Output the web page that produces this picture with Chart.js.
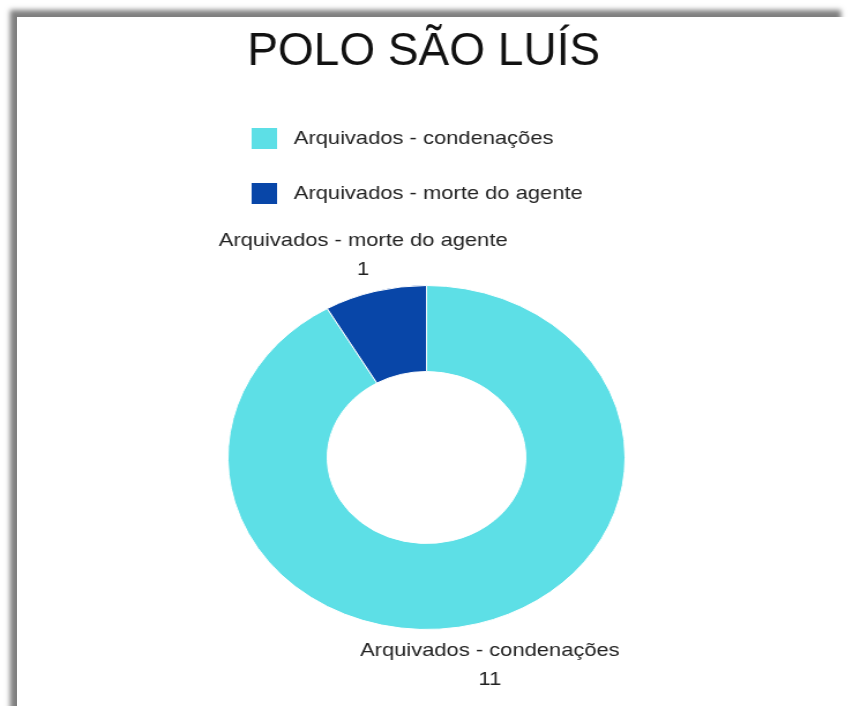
<!DOCTYPE html>
<html>
<head>
<meta charset="utf-8">
<script src="https://cdn.jsdelivr.net/npm/chart.js@4.4.0/dist/chart.umd.min.js"></script>
<style>
  html, body { margin: 0; padding: 0; background: #fff; width: 853px; height: 706px; overflow: hidden; }
  #frame {
    position: absolute; left: 17px; top: 17px; width: 831px; height: 760px;
    background: #fff; box-shadow: -7px -7px 5px rgba(0, 0, 0, 0.5);
  }
  /* the reference is stretched sideways, so the whole canvas is too */
  #wrap {
    position: absolute; left: 0; top: 0; width: 739px; height: 706px;
    transform: scaleX(1.1543); transform-origin: 0 0;
  }
</style>
</head>
<body>
<div id="frame"></div>
<div id="wrap"><canvas id="poloChart"></canvas></div>
<script>
const titleText = 'POLO SÃO LUÍS';
const categories = ['Arquivados - condenações', 'Arquivados - morte do agente'];
const counts = [11, 1];
const sliceColors = ['#5ddfe6', '#0846a8'];

const FONT = "'Liberation Sans', Arial, sans-serif";
const STRETCH = 1.1543;

// title is not stretched in the reference, so squeeze it back
const plainTitle = {
    id: 'plainTitle',
    afterDraw(chart) {
        const ctx = chart.ctx;
        ctx.save();
        ctx.translate(367, 65);
        ctx.scale(1 / STRETCH, 1);
        ctx.font = '46px ' + FONT;
        ctx.fillStyle = '#111';
        ctx.textAlign = 'center';
        ctx.textBaseline = 'alphabetic';
        ctx.fillText(titleText, 0, 0);
        ctx.restore();
    }
};

// vertical legend drawn by hand (chart.js would put the items in one row)
const stackedLegend = {
    id: 'stackedLegend',
    afterDraw(chart) {
        const ctx = chart.ctx;
        ctx.save();
        ctx.font = '19px ' + FONT;
        ctx.textBaseline = 'middle';
        ctx.textAlign = 'left';
        chart.data.labels.forEach(function (label, i) {
            const y = 128 + i * 55;
            ctx.fillStyle = chart.data.datasets[0].backgroundColor[i];
            ctx.fillRect(218, y, 22, 21);
            ctx.fillStyle = '#222';
            ctx.fillText(label, 254.5, y + 11);
        });
        ctx.restore();
    }
};

// name + value outside each slice
const outsideLabels = {
    id: 'outsideLabels',
    afterDatasetsDraw(chart) {
        const ctx = chart.ctx;
        const meta = chart.getDatasetMeta(0);
        ctx.save();
        ctx.font = '19px ' + FONT;
        ctx.fillStyle = '#222';
        ctx.textAlign = 'center';
        ctx.textBaseline = 'middle';
        meta.data.forEach(function (arc, i) {
            const p = arc.getProps(['x', 'y', 'startAngle', 'endAngle', 'outerRadius'], true);
            const mid = (p.startAngle + p.endAngle) / 2;
            const r = p.outerRadius + 40;
            const cx = p.x + Math.cos(mid) * r;
            const cy = p.y + Math.sin(mid) * r + 3;
            ctx.fillText(chart.data.labels[i], cx, cy - 14.5);
            ctx.fillText(String(chart.data.datasets[0].data[i]), cx, cy + 14.5);
        });
        ctx.restore();
    }
};

const ctx = document.getElementById('poloChart').getContext('2d');
const chart = new Chart(ctx, {
    type: 'doughnut',
    data: {
        labels: categories,
        datasets: [{
            data: counts,
            backgroundColor: sliceColors,
            borderColor: '#ffffff',
            borderWidth: 1,
            hoverOffset: 0
        }]
    },
    options: {
        responsive: true,
        maintainAspectRatio: false,
        animation: false,
        cutout: '50%',
        layout: {
            padding: { top: 285, bottom: 76, left: 0, right: 0 }
        },
        plugins: {
            legend: { display: false },
            tooltip: { enabled: false },
            title: { display: false }
        }
    },
    plugins: [plainTitle, stackedLegend, outsideLabels]
});
</script>
</body>
</html>
